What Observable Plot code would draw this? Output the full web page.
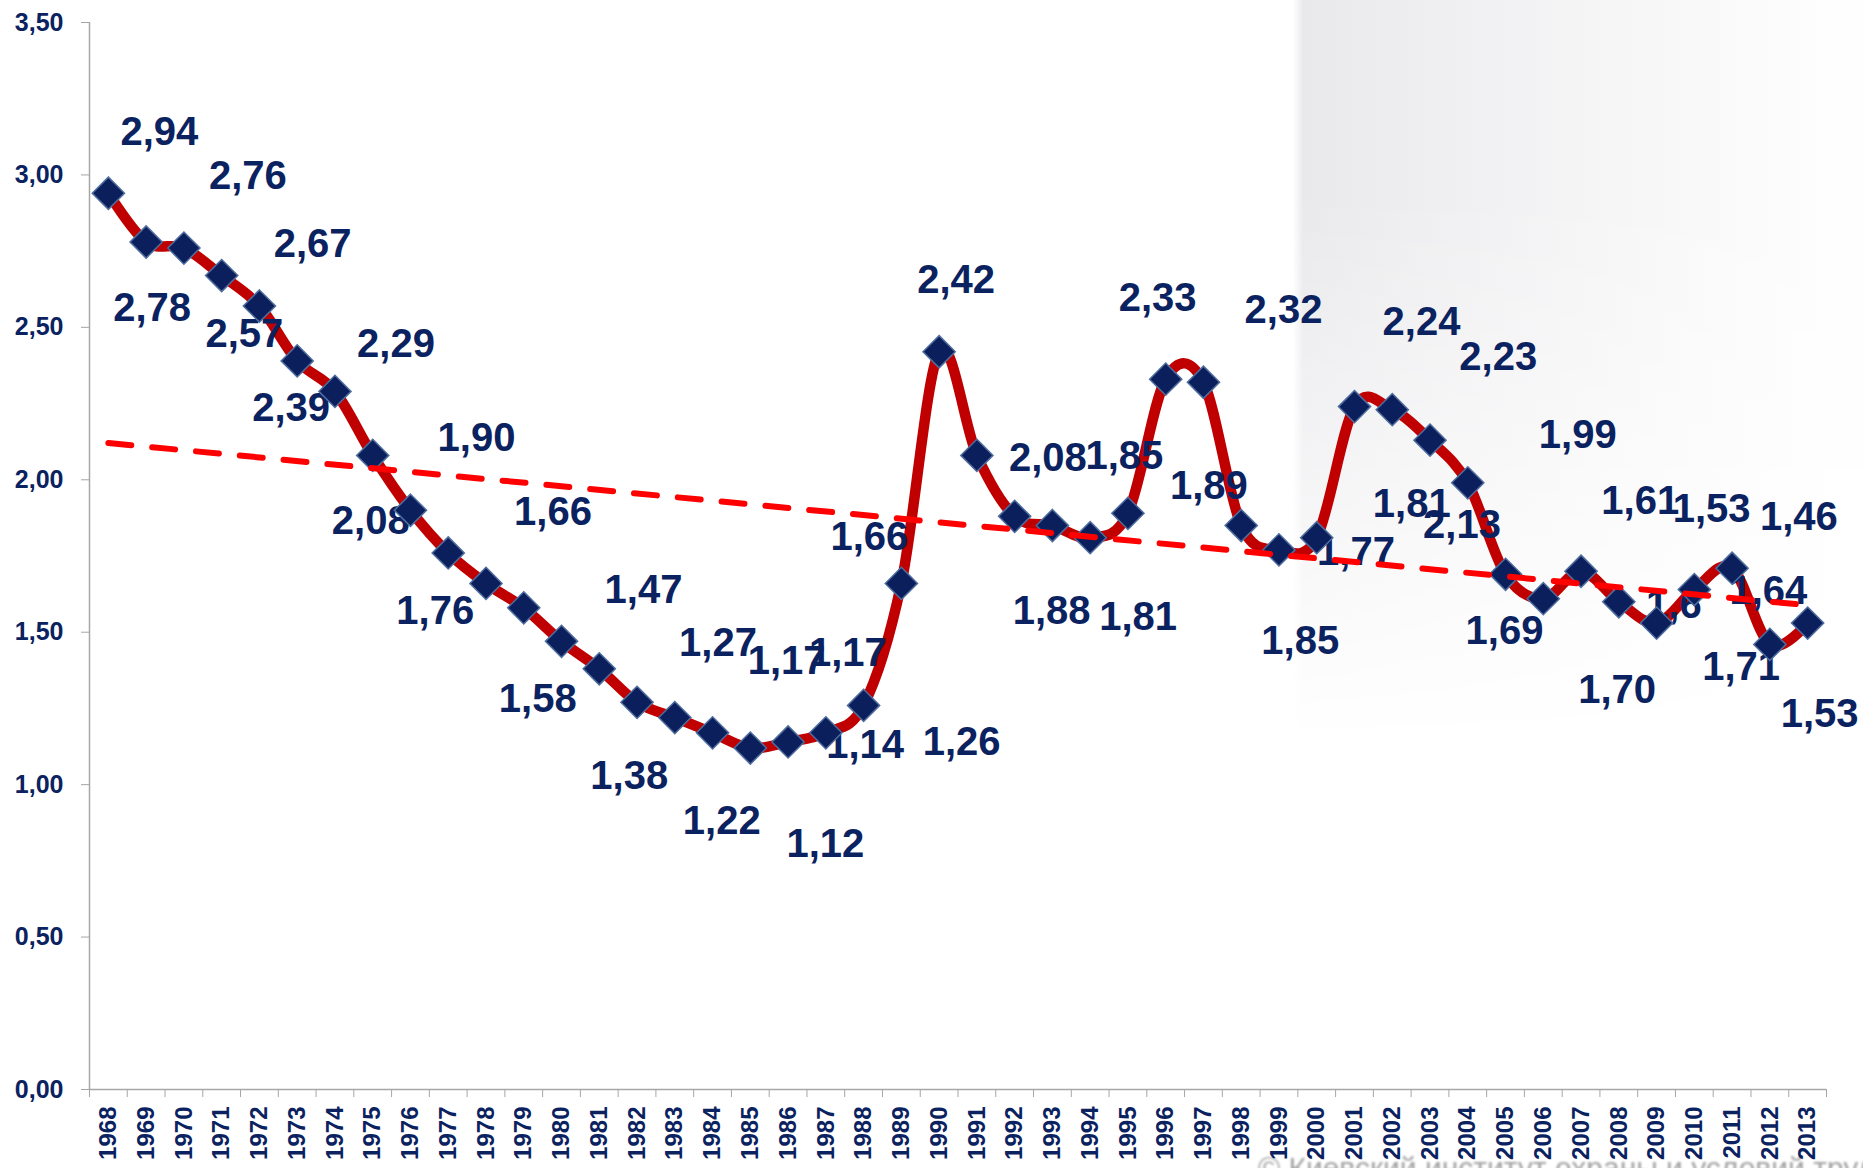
<!DOCTYPE html>
<html>
<head>
<meta charset="utf-8">
<script src="https://cdn.jsdelivr.net/npm/d3@7"></script>
<script src="https://cdn.jsdelivr.net/npm/@observablehq/plot@0.6"></script>
<style>
  html, body { margin: 0; padding: 0; background: #ffffff; overflow: hidden; }
  #wrap { position: relative; width: 1863px; height: 1168px; overflow: hidden; }
  #shade {
    position: absolute; left: 1293px; top: 0; width: 570px; height: 780px;
    background: linear-gradient(to right, rgba(255,255,255,0) 0px, #e9e9ec 10px, #eeeef0 120px, #f6f6f7 330px, #fefefe 540px);
    -webkit-mask-image: linear-gradient(to bottom, #000 0%, #000 25%, transparent 95%);
    mask-image: linear-gradient(to bottom, #000 0%, #000 25%, transparent 95%);
  }
  #credit {
    position: absolute; left: 1258px; top: 1153px;
    font: 30px/30px "Liberation Sans", Arial, sans-serif; color: #a2a2a2;
    white-space: nowrap; filter: blur(0.9px);
  }
  #chart { position: absolute; left: 0; top: 0; }
</style>
</head>
<body>
<div id="wrap">
  <div id="shade"></div>
  <div id="credit">© Киевский институт охраны и условий труда</div>
  <div id="chart"></div>
</div>
<script>
// Years on the horizontal axis
const years = [
  1968, 1969, 1970, 1971, 1972, 1973, 1974, 1975, 1976, 1977,
  1978, 1979, 1980, 1981, 1982, 1983, 1984, 1985, 1986, 1987,
  1988, 1989, 1990, 1991, 1992, 1993, 1994, 1995, 1996, 1997,
  1998, 1999, 2000, 2001, 2002, 2003, 2004, 2005, 2006, 2007,
  2008, 2009, 2010, 2011, 2012, 2013
];

// Value labels as printed beside each point (decimal comma)
const valueLabels = [
  "2,94", "2,78", "2,76", "2,67", "2,57", "2,39", "2,29", "2,08", "1,90", "1,76",
  "1,66", "1,58", "1,47", "1,38", "1,27", "1,22", "1,17", "1,12", "1,14", "1,17",
  "1,26", "1,66", "2,42", "2,08", "1,88", "1,85", "1,81", "1,89", "2,33", "2,32",
  "1,85", "1,77", "1,81", "2,24", "2,23", "2,13", "1,99", "1,69", "1,61", "1,70",
  "1,6",  "1,53", "1,64", "1,71", "1,46", "1,53"
];

// Numeric series
const values = valueLabels.map(s => +s.replace(",", "."));

// Vertical axis ticks
const yTicks = [0, 0.5, 1, 1.5, 2, 2.5, 3, 3.5];

// Label placement relative to each point, in pixels [dx, dy]
const labelShift = [
  [51, -61], [6, 66], [64, -72], [91, -31], [-15, 28], [-6, 47], [61, -47], [-2, 66], [66, -72], [-13, 58],
  [67, -71], [14, 91], [82, -51], [30, 107], [81, -59], [47, 104], [74, -72], [75, 96], [77, 3], [22, -80],
  [98, 37], [-32, -46], [17, -72], [71, 3], [37, 95], [72, -69], [48, 79], [81, -27], [-8, -81], [80, -72],
  [59, 116], [77, 2], [95, -34], [67, -84], [106, -52], [32, 85], [110, -48], [-1, 57], [97, -97], [36, 119],
  [55, 3], [55, -114], [74, 2], [9, 99], [29, -127], [12, 91]
];

const navy = "#0b2260";
const axisGray = "#a6a6a6";
const commaFixed = d => d.toFixed(2).replace(".", ",");

const data = years.map((year, i) => ({year, value: values[i], label: valueLabels[i]}));
const xStart = years[0] - 0.5;
const xEnd = years[years.length - 1] + 0.5;
const bandEdges = years.map(y => y - 0.5).concat([xEnd]);

const labelMarks = data.map((d, i) => Plot.text([d], {
  x: "year", y: "value", text: "label",
  dx: labelShift[i][0], dy: labelShift[i][1],
  fontSize: 40, fontWeight: "bold", fill: navy
}));

const chart = Plot.plot({
  width: 1863,
  height: 1168,
  marginLeft: 89,
  marginRight: 37,
  marginTop: 22,
  marginBottom: 79,
  style: {
    background: "transparent",
    fontFamily: '"Liberation Sans", Arial, sans-serif',
    fontWeight: "bold",
    color: navy
  },
  x: {domain: [xStart, xEnd], label: null},
  y: {domain: [0, 3.5], label: null},
  marks: [
    // axis lines
    Plot.ruleX([xStart], {stroke: axisGray, strokeWidth: 1.5}),
    Plot.ruleY([0], {stroke: axisGray, strokeWidth: 1.5}),
    // vertical axis
    Plot.axisY({
      ticks: yTicks, tickSize: 8, tickPadding: 18, tickFormat: commaFixed,
      fontSize: 25, stroke: axisGray, fill: navy, label: null
    }),
    // category boundary ticks
    Plot.axisX({ticks: bandEdges, tickSize: 8, tickFormat: () => "", stroke: axisGray, label: null}),
    // year labels
    Plot.axisX({
      ticks: years, tickSize: 0, tickPadding: 17, tickRotate: -90,
      tickFormat: d => String(d), fontSize: 24, fill: navy, label: null
    }),
    // smoothed series line
    Plot.line(data, {
      x: "year", y: "value", curve: "cardinal",
      stroke: "#c00000", strokeWidth: 10.5, strokeLinejoin: "round"
    }),
    ...labelMarks,
    // markers
    Plot.dot(data, {
      x: "year", y: "value", symbol: "diamond2", r: 14.5,
      fill: "#0a1f5c", stroke: "#4f6d9e", strokeWidth: 1.5
    }),
    // linear trend
    Plot.linearRegressionY(data, {
      x: "year", y: "value", ci: 0,
      stroke: "#ff0000", strokeWidth: 6, strokeDasharray: "23,21"
    })
  ]
});

document.getElementById("chart").appendChild(chart);
</script>
</body>
</html>
